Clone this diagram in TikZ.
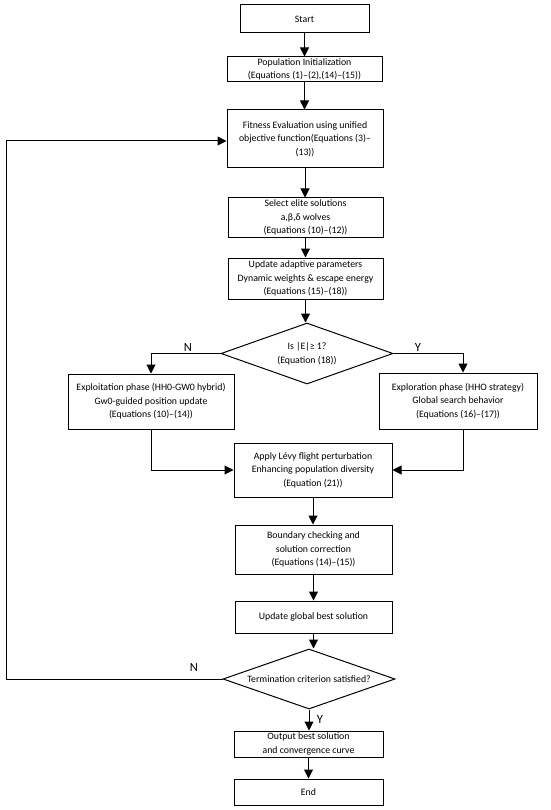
\documentclass[tikz,border=0pt]{standalone}
\usepackage{fontspec}
\setmainfont{Carlito}
\usetikzlibrary{arrows.meta,shapes.geometric}
\begin{document}
\begin{tikzpicture}[x=1pt,y=-1pt,
  box/.style={draw,line width=1pt,align=center,inner sep=0pt,font=\fontsize{9.8}{13.5}\selectfont},
  dia/.style={draw,diamond,aspect=2.85,line width=1pt,align=center,inner sep=0pt,font=\fontsize{9.8}{13.5}\selectfont},
  arr/.style={-{Triangle[length=9pt,width=9pt]},line width=1pt},
  lbl/.style={font=\fontsize{12.5}{14}\selectfont,inner sep=0pt}]
\useasboundingbox (0,0) rectangle (550,810);
\node[box,minimum width=129,minimum height=28] (start) at (304.5,19) {Start};
\node[box,minimum width=155,minimum height=25] (pop) at (304.5,69.5) {Population Initialization\\(Equations (1)–(2),(14)–(15))};
\node[box,minimum width=156,minimum height=58] (fit) at (305,139) {Fitness Evaluation using unified\\objective function(Equations (3)–\\(13))};
\node[box,minimum width=155,minimum height=39] (sel) at (305.5,217.5) {Select elite solutions\\a,β,δ wolves\\(Equations (10)–(12))};
\node[box,minimum width=155,minimum height=41] (upd) at (305.5,278.5) {Update adaptive parameters\\Dynamic weights \& escape energy\\(Equations (15)–(18))};
\node[dia,minimum width=172,minimum height=61] (d1) at (307,353.5) {Is |E|≥ 1?\\(Equation (18))};
\node[box,minimum width=166,minimum height=55] (exl) at (151,401.5) {Exploitation phase (HH0-GW0 hybrid)\\Gw0-guided position update\\(Equations (10)–(14))};
\node[box,minimum width=158,minimum height=56] (exr) at (458,401) {Exploration phase (HHO strategy)\\Global search behavior\\(Equations (16)–(17))};
\node[box,minimum width=158,minimum height=54] (levy) at (313,470) {Apply Lévy flight perturbation\\Enhancing population diversity\\(Equation (21))};
\node[box,minimum width=157,minimum height=49] (bound) at (313.5,549.5) {Boundary checking and\\solution correction\\(Equations (14)–(15))};
\node[box,minimum width=157,minimum height=32] (glob) at (313.5,617) {Update global best solution};
\node[dia,minimum width=172,minimum height=60] (d2) at (309,679) {Termination criterion satisfied?};
\node[box,minimum width=149,minimum height=26] (out) at (308.5,744) {Output best solution\\and convergence curve};
\node[box,minimum width=149,minimum height=26] (end) at (308.5,792) {End};

\draw[arr] (start.south) -- (start.south |- pop.north);
\draw[arr] (pop.south) -- (pop.south |- fit.north);
\draw[arr] (fit.south) -- (fit.south |- sel.north);
\draw[arr] (sel.south) -- (sel.south |- upd.north);
\draw[arr] (upd.south) -- (upd.south |- d1.north);
\draw[arr] (d1.west) -| (exl.north);
\draw[arr] (d1.east) -| ([xshift=5]exr.north);
\draw[arr] (exl.south) |- (levy.west);
\draw[arr] ([xshift=5]exr.south) |- (levy.east);
\draw[arr] (levy.south) -- (levy.south |- bound.north);
\draw[arr] (bound.south) -- (bound.south |- glob.north);
\draw[arr] (glob.south) -- (glob.south |- d2.north);
\draw[arr] (d2.south) -- (d2.south |- out.north);
\draw[arr] (out.south) -- (out.south |- end.north);
\coordinate (fbl) at (6,679);
\coordinate (fbt) at (6,141);
\draw[arr] (d2.west) -- (fbl) -- (fbt) -- (fbt -| fit.west);

\node[lbl] (n1) at (188,347) {N};
\node[lbl] (y1) at (418,347) {Y};
\node[lbl] (n2) at (194,667) {N};
\node[lbl] (y2) at (320,719) {Y};
\end{tikzpicture}
\end{document}
